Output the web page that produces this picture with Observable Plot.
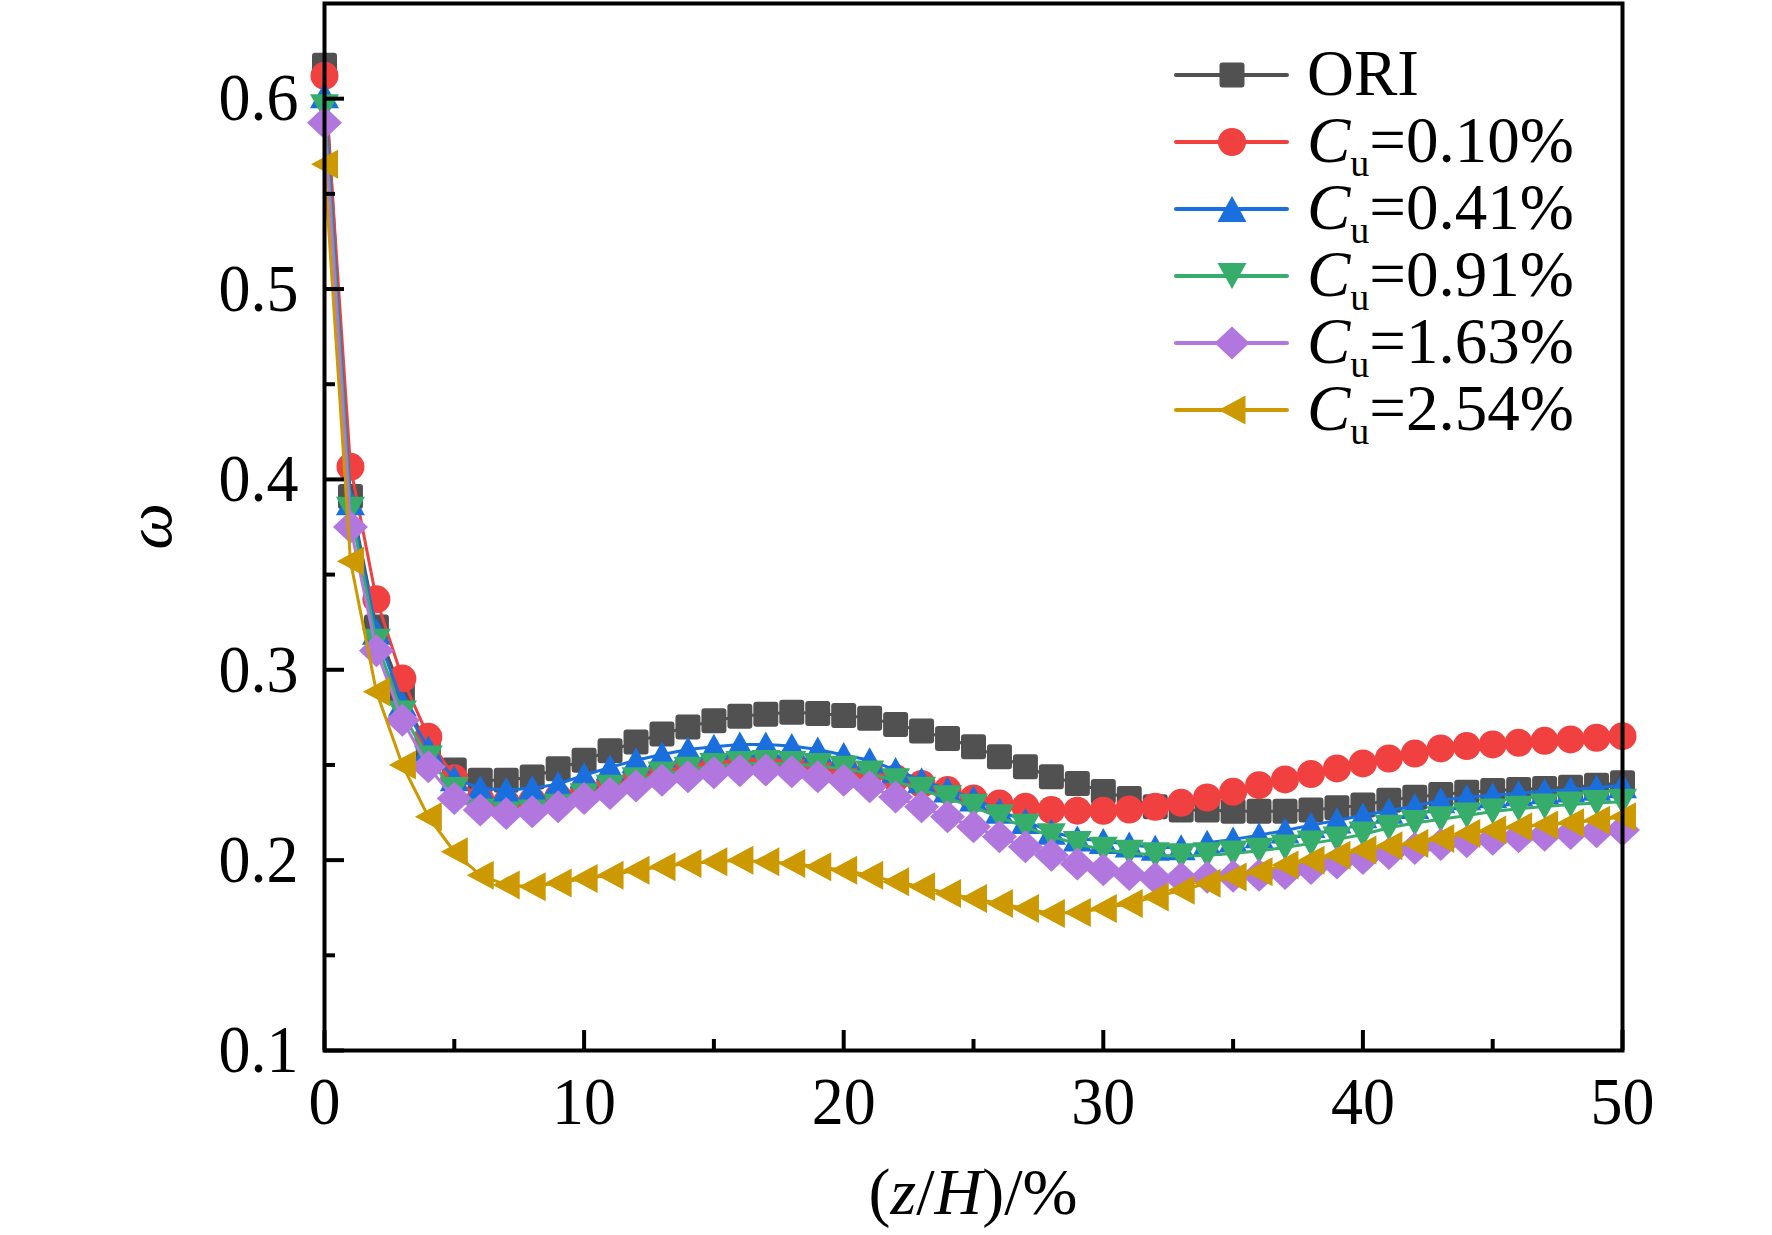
<!DOCTYPE html>
<html>
<head>
<meta charset="utf-8">
<script src="https://cdn.jsdelivr.net/npm/d3@7"></script>
<script src="https://cdn.jsdelivr.net/npm/@observablehq/plot@0.6"></script>
<style>
  html, body { margin: 0; padding: 0; background: #ffffff; }
  #chart { width: 1772px; height: 1235px; }
</style>
</head>
<body>
<div id="chart"></div>
<script>
// ---------- data ----------
const zH = [0,1,2,3,4,5,6,7,8,9,10,11,12,13,14,15,16,17,18,19,20,21,22,23,24,25,26,27,28,29,30,31,32,33,34,35,36,37,38,39,40,41,42,43,44,45,46,47,48,49,50];

const ORI = [0.6175,0.391,0.3225,0.2875,0.258,0.2473,0.242,0.242,0.2437,0.248,0.2525,0.2574,0.2621,0.2662,0.270,0.2732,0.2756,0.2767,0.2777,0.277,0.276,0.2746,0.2713,0.2678,0.2639,0.2595,0.2543,0.249,0.2438,0.2403,0.236,0.2324,0.228,0.2263,0.2263,0.2257,0.2257,0.2257,0.2263,0.2275,0.2289,0.2315,0.2331,0.2345,0.2357,0.2366,0.2371,0.2376,0.2383,0.2394,0.2406];
const Cu010 = [0.612,0.4066,0.337,0.2954,0.2648,0.243,0.232,0.230,0.231,0.233,0.237,0.240,0.243,0.246,0.248,0.250,0.251,0.251,0.251,0.250,0.248,0.246,0.243,0.240,0.2368,0.2324,0.2298,0.228,0.2263,0.226,0.2259,0.2266,0.228,0.2301,0.2329,0.2359,0.2394,0.2424,0.2452,0.2482,0.2508,0.2534,0.256,0.2587,0.2599,0.2608,0.2616,0.2627,0.2634,0.2643,0.2651];
const Cu041 = [0.6018,0.388,0.320,0.2823,0.2586,0.243,0.2377,0.2368,0.2377,0.240,0.2446,0.2487,0.2525,0.2555,0.2581,0.2596,0.2608,0.2608,0.2599,0.2581,0.2552,0.2525,0.2473,0.242,0.2371,0.2324,0.2259,0.2205,0.2149,0.2114,0.210,0.2082,0.2065,0.2068,0.2091,0.2109,0.2131,0.2156,0.2184,0.2208,0.2236,0.2259,0.2284,0.2314,0.2331,0.2341,0.2352,0.2362,0.2371,0.238,0.2394];
const Cu091 = [0.5955,0.384,0.3147,0.277,0.2534,0.2368,0.2255,0.224,0.225,0.228,0.2335,0.238,0.242,0.245,0.2475,0.2495,0.2505,0.251,0.2505,0.2495,0.248,0.2455,0.2415,0.237,0.2325,0.228,0.2225,0.2175,0.2125,0.2085,0.2055,0.2039,0.2026,0.2021,0.2026,0.2035,0.2049,0.2066,0.2088,0.2109,0.2135,0.217,0.2195,0.2215,0.2235,0.2255,0.227,0.2282,0.2292,0.230,0.2307];
const Cu163 = [0.5873,0.375,0.310,0.2735,0.249,0.2324,0.2263,0.2245,0.2254,0.228,0.2324,0.235,0.2389,0.242,0.2438,0.2459,0.2469,0.2473,0.2464,0.2438,0.242,0.2385,0.2332,0.228,0.2228,0.2175,0.2123,0.207,0.2026,0.198,0.195,0.1925,0.1905,0.1905,0.191,0.1915,0.192,0.193,0.1956,0.1985,0.2009,0.2035,0.2061,0.2082,0.2096,0.211,0.2123,0.2131,0.214,0.2149,0.2158];
const Cu254 = [0.5655,0.357,0.2884,0.250,0.2228,0.2044,0.192,0.187,0.186,0.188,0.1904,0.1921,0.1947,0.1965,0.1982,0.1991,0.200,0.1991,0.1982,0.1965,0.1947,0.1921,0.1886,0.186,0.1825,0.1799,0.1772,0.1746,0.172,0.1725,0.1746,0.1772,0.1807,0.1842,0.1878,0.1912,0.1939,0.1974,0.200,0.2026,0.2053,0.2075,0.2088,0.2114,0.214,0.2158,0.2175,0.2184,0.2196,0.221,0.2228];

const seriesNames = ["ORI", "0.10%", "0.41%", "0.91%", "1.63%", "2.54%"];
const seriesColors = ["#515151", "#F14040", "#1A6FDF", "#37AD6B", "#B177DE", "#CC9900"];
const seriesValues = [ORI, Cu010, Cu041, Cu091, Cu163, Cu254];

const xMajorTicks = [0, 10, 20, 30, 40, 50];
const xMinorTicks = [5, 15, 25, 35, 45];
const yMajorTicks = [0.1, 0.2, 0.3, 0.4, 0.5, 0.6];
const yMinorTicks = [0.15, 0.25, 0.35, 0.45, 0.55];

// ---------- symbols ----------
const symSquare = {draw(c) {
  const h = 12.5, q = 3;
  c.moveTo(-h + q, -h);
  c.lineTo(h - q, -h); c.arcTo(h, -h, h, -h + q, q);
  c.lineTo(h, h - q); c.arcTo(h, h, h - q, h, q);
  c.lineTo(-h + q, h); c.arcTo(-h, h, -h, h - q, q);
  c.lineTo(-h, -h + q); c.arcTo(-h, -h, -h + q, -h, q);
  c.closePath();
}};
const symCircle = {draw(c) { const r = 14; c.moveTo(r, 0); c.arc(0, 0, r, 0, 2 * Math.PI); c.closePath(); }};
const symUp = {draw(c) { c.moveTo(0, -13); c.lineTo(14.5, 13); c.lineTo(-14.5, 13); c.closePath(); }};
const symDown = {draw(c) { c.moveTo(0, 13); c.lineTo(14.5, -13); c.lineTo(-14.5, -13); c.closePath(); }};
const symDiamond = {draw(c) { c.moveTo(0, -16.5); c.lineTo(17.5, 0); c.lineTo(0, 16.5); c.lineTo(-17.5, 0); c.closePath(); }};
const symLeft = {draw(c) { c.moveTo(-13.5, 0); c.lineTo(13.5, -14.5); c.lineTo(13.5, 14.5); c.closePath(); }};
const seriesSymbols = [symSquare, symCircle, symUp, symDown, symDiamond, symLeft];

// ---------- layout ----------
const W = 1772, H = 1235;
const mL = 324, mR = 150, mT = 3, mB = 185;
const plotW = W - mL - mR, plotH = H - mT - mB;
const FONT = '"Liberation Serif", "Times New Roman", Times, serif';

const marks = [];
seriesValues.forEach((vals, s) => {
  const rows = zH.map((z, i) => ({z, w: vals[i]}));
  marks.push(Plot.line(rows, {x: "z", y: "w", stroke: seriesColors[s], strokeWidth: 3}));
  marks.push(Plot.dot(rows, {x: "z", y: "w", symbol: seriesSymbols[s], r: 12, fill: seriesColors[s], stroke: "none"}));
});

// inward ticks
marks.push(Plot.ruleX(xMajorTicks, {x: d => d, stroke: "black", strokeWidth: 4, insetTop: plotH - 20}));
marks.push(Plot.ruleX(xMinorTicks, {x: d => d, stroke: "black", strokeWidth: 4, insetTop: plotH - 11}));
marks.push(Plot.ruleY(yMajorTicks, {y: d => d, stroke: "black", strokeWidth: 4, insetRight: plotW - 20}));
marks.push(Plot.ruleY(yMinorTicks, {y: d => d, stroke: "black", strokeWidth: 4, insetRight: plotW - 11}));
marks.push(Plot.frame({stroke: "black", strokeWidth: 4}));
marks.push(Plot.axisX({ticks: xMajorTicks, tickSize: 0, tickPadding: 27, tickFormat: d => String(d), label: null}));
marks.push(Plot.axisY({ticks: yMajorTicks, tickSize: 0, tickPadding: 26, tickFormat: d => d.toFixed(1), label: null}));

const svg = Plot.plot({
  width: W, height: H,
  marginLeft: mL, marginRight: mR, marginTop: mT, marginBottom: mB,
  x: {domain: [0, 50]},
  y: {domain: [0.1, 0.65]},
  style: {background: "#ffffff", fontFamily: FONT, fontSize: "64px", color: "black", overflow: "visible"},
  marks
});

const root = d3.select(svg);

// axis titles
const xt = root.append("text")
  .attr("x", mL + plotW / 2).attr("y", 1214)
  .attr("text-anchor", "middle")
  .style("font-family", FONT).style("font-size", "66px").attr("fill", "black");
xt.append("tspan").text("(");
xt.append("tspan").attr("font-style", "italic").text("z");
xt.append("tspan").text("/");
xt.append("tspan").attr("font-style", "italic").text("H");
xt.append("tspan").text(")/%");

root.append("text")
  .attr("transform", `translate(${156 + 0.23 * 66},${mT + plotH / 2}) rotate(-90)`)
  .attr("text-anchor", "middle")
  .style("font-family", FONT).style("font-size", "66px").attr("font-style", "italic").attr("fill", "black")
  .text("ω");

// legend
const legX0 = 1176, legX1 = 1287, legSym = 1232, legText = 1307, legY0 = 75, legDY = 67;
const leg = root.append("g").attr("text-anchor", "start");
seriesNames.forEach((name, i) => {
  const cy = legY0 + i * legDY;
  leg.append("line").attr("x1", legX0).attr("x2", legX1).attr("y1", cy).attr("y2", cy)
    .attr("stroke", seriesColors[i]).attr("stroke-width", 4).attr("stroke-linecap", "round");
  const p = d3.path();
  seriesSymbols[i].draw(p);
  leg.append("path").attr("d", p.toString()).attr("transform", `translate(${legSym},${cy})`).attr("fill", seriesColors[i]);
  const t = leg.append("text").attr("x", legText).attr("y", cy + 20).attr("text-anchor", "start")
    .style("font-family", FONT).style("font-size", "65px").attr("fill", "black");
  if (i === 0) {
    t.text(name);
  } else {
    t.append("tspan").attr("font-style", "italic").text("C");
    t.append("tspan").style("font-size", "38px").attr("dy", 14).text("u");
    t.append("tspan").attr("dy", -14).text("=" + name);
  }
});

document.getElementById("chart").appendChild(svg);

// slight vertical stretch of the tick-label glyphs, as in the reference
function stretch(el, k) {
  const b = el.getBBox();
  let cx = b.x + b.width / 2, cy = b.y + b.height / 2;
  const tl = el.transform && el.transform.baseVal;
  const m = tl && tl.numberOfItems ? tl.consolidate() : null;
  if (m) {
    const M = m.matrix;
    const px = M.a * cx + M.c * cy + M.e, py = M.b * cx + M.d * cy + M.f;
    cx = px; cy = py;
  }
  const existing = el.getAttribute("transform") || "";
  el.setAttribute("transform", `translate(${cx},${cy}) scale(1,${k}) translate(${-cx},${-cy}) ${existing}`);
}
svg.querySelectorAll('g[aria-label$="tick label"] text').forEach(el => stretch(el, 1.06));
</script>
</body>
</html>
